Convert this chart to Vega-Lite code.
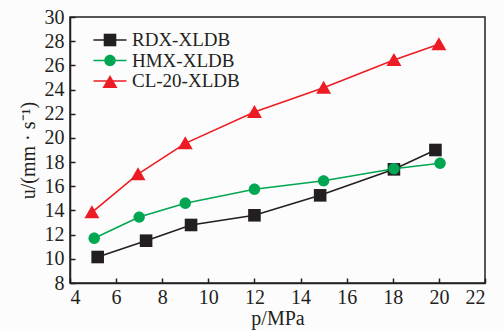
{
  "$schema": "https://vega.github.io/schema/vega-lite/v6.json",
  "width": 415,
  "height": 266,
  "autosize": "none",
  "padding": {"left": 70, "top": 17, "right": 19, "bottom": 48},
  "background": "#fcfcfc",
  "view": {"stroke": "#231f20", "strokeWidth": 1.5, "fill": "#fcfcfc"},
  "config": {
    "font": "Liberation Serif",
    "axis": {
      "domainColor": "#231f20", "domainWidth": 1.5,
      "tickColor": "#231f20", "tickWidth": 1.5, "tickSize": -5,
      "labelFont": "Liberation Serif", "labelFontSize": 20, "labelColor": "#231f20",
      "titleFont": "Liberation Serif", "titleFontSize": 20, "titleFontWeight": "normal", "titleColor": "#231f20",
      "grid": false
    },
    "legend": {"padding": 0}
  },
  "data": {
    "values": [
      {"series": "RDX-XLDB", "p": 5.2, "u": 10.15},
      {"series": "RDX-XLDB", "p": 7.3, "u": 11.5},
      {"series": "RDX-XLDB", "p": 9.25, "u": 12.8},
      {"series": "RDX-XLDB", "p": 12.0, "u": 13.6},
      {"series": "RDX-XLDB", "p": 14.85, "u": 15.25},
      {"series": "RDX-XLDB", "p": 18.05, "u": 17.4},
      {"series": "RDX-XLDB", "p": 19.85, "u": 19.0},
      {"series": "HMX-XLDB", "p": 5.05, "u": 11.7},
      {"series": "HMX-XLDB", "p": 7.0, "u": 13.45},
      {"series": "HMX-XLDB", "p": 9.0, "u": 14.6},
      {"series": "HMX-XLDB", "p": 12.0, "u": 15.75},
      {"series": "HMX-XLDB", "p": 15.0, "u": 16.45},
      {"series": "HMX-XLDB", "p": 18.05, "u": 17.45},
      {"series": "HMX-XLDB", "p": 20.05, "u": 17.9},
      {"series": "CL-20-XLDB", "p": 4.95, "u": 13.85},
      {"series": "CL-20-XLDB", "p": 6.95, "u": 17.0},
      {"series": "CL-20-XLDB", "p": 9.0, "u": 19.55},
      {"series": "CL-20-XLDB", "p": 12.0, "u": 22.15},
      {"series": "CL-20-XLDB", "p": 15.0, "u": 24.15},
      {"series": "CL-20-XLDB", "p": 18.05, "u": 26.45},
      {"series": "CL-20-XLDB", "p": 20.0, "u": 27.75}
    ]
  },
  "encoding": {
    "x": {
      "field": "p", "type": "quantitative",
      "scale": {"domain": [4, 22], "nice": false, "zero": false},
      "axis": {
        "values": [4, 6, 8, 10, 12, 14, 16, 18, 20, 22], "labelPadding": 9, "titlePadding": 1, "title": "p/MPa",
        "labelFont": "Liberation Serif", "titleFont": "Liberation Serif"
      }
    },
    "y": {
      "field": "u", "type": "quantitative",
      "scale": {"domain": [8, 30], "nice": false, "zero": false},
      "axis": {
        "values": [8, 10, 12, 14, 16, 18, 20, 22, 24, 26, 28, 30], "labelPadding": 11, "titlePadding": 6, "title": "u/(mm · s⁻¹)",
        "labelFont": "Liberation Serif", "titleFont": "Liberation Serif"
      }
    }
  },
  "layer": [
    {
      "mark": {"type": "line", "strokeWidth": 1.6},
      "encoding": {
        "color": {
          "field": "series", "type": "nominal",
          "sort": ["RDX-XLDB", "HMX-XLDB", "CL-20-XLDB"],
          "scale": {"range": ["#231f20", "#00a651", "#ed1c24"]},
          "legend": {
            "orient": "none", "legendX": 30, "legendY": 13, "title": null, "padding": 0,
            "symbolType": "M-1.833,0H1.833", "symbolSize": 324, "symbolStrokeWidth": 1.5, "rowPadding": 0.5,
            "labelFont": "Liberation Serif", "labelFontSize": 19, "labelColor": "#231f20", "labelOffset": 12
          }
        }
      }
    },
    {
      "mark": {"type": "point", "filled": true, "opacity": 1, "size": 324},
      "encoding": {
        "fill": {
          "field": "series", "type": "nominal",
          "scale": {"domain": ["RDX-XLDB", "HMX-XLDB", "CL-20-XLDB"], "range": ["#231f20", "#00a651", "#ed1c24"]},
          "legend": {
            "orient": "none", "legendX": 30, "legendY": 13, "title": null, "padding": 0,
            "symbolSize": 324, "symbolStrokeWidth": 1.5, "rowPadding": 0.5,
            "labelFont": "Liberation Serif", "labelFontSize": 19, "labelExpr": "''", "labelOffset": 12
          }
        },
        "shape": {
          "field": "series", "type": "nominal",
          "scale": {"domain": ["RDX-XLDB", "HMX-XLDB", "CL-20-XLDB"], "range": ["M-0.7,-0.7H0.7V0.7H-0.7Z", "M-0.633,0A0.633,0.633,0,1,1,0.633,0A0.633,0.633,0,1,1,-0.633,0Z", "M0,-0.78L0.833,0.667L-0.833,0.667Z"]},
          "legend": {
            "orient": "none", "legendX": 30, "legendY": 13, "title": null, "padding": 0,
            "symbolSize": 324, "symbolStrokeWidth": 1.5, "rowPadding": 0.5,
            "labelFont": "Liberation Serif", "labelFontSize": 19, "labelExpr": "''", "labelOffset": 12
          }
        }
      }
    }
  ]
}
